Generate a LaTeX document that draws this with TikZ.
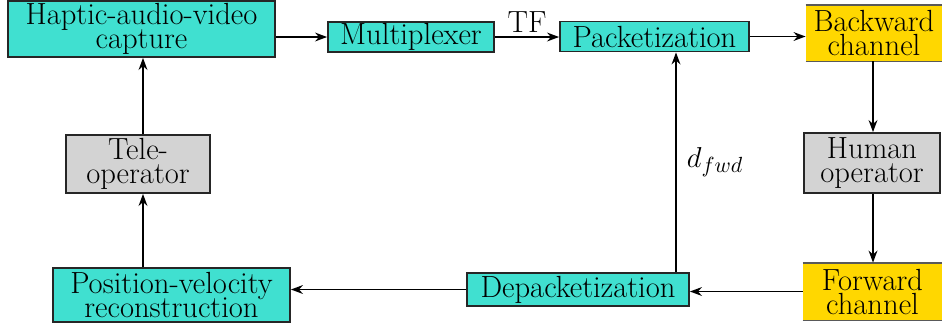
\documentclass[tikz,border=0pt]{standalone}
\usetikzlibrary{arrows.meta}
\definecolor{turq}{HTML}{40E0D0}
\definecolor{chanyellow}{HTML}{FFD700}
\definecolor{opgray}{HTML}{D3D3D3}
\newcommand\blkfont{\fontsize{15.3}{12}\selectfont\lineskiplimit=-20pt\relax}
\begin{document}
\begin{tikzpicture}[x=0.5pt,y=-0.5pt,
  every node/.style={font=\blkfont, inner sep=0pt, align=center},
  blk/.style={draw=black!85, line width=0.9pt, fill=turq},
  opbox/.style={draw=black!85, line width=0.9pt, fill=opgray},
  chan/.style={fill=chanyellow},
  chanline/.style={draw=black!65, line width=0.9pt},
  conn/.style={line width=0.9pt, -{Stealth[length=6pt,width=4.4pt]}}]
\useasboundingbox (0,0) rectangle (942,329);

% blocks
\node[blk, minimum width=133.5pt, minimum height=28pt] (cap) at (141.5,29) {Haptic-audio-video\\capture};
\node[blk, minimum width=83pt, minimum height=15pt] (mux) at (411,37) {Multiplexer};
\node[blk, minimum width=94.5pt, minimum height=15pt] (pack) at (654.5,36.5) {Packetization};
\node[chan, minimum width=68pt, minimum height=28pt] (back) at (874,33) {Backward\\channel};
\node[opbox, minimum width=68pt, minimum height=30pt] (human) at (872,163) {Human\\operator};
\node[chan, minimum width=69.5pt, minimum height=28.5pt] (fwd) at (872.5,291.5) {Forward\\channel};
\node[blk, minimum width=111pt, minimum height=16.5pt] (depack) at (578,289.5) {Depacketization};
\node[blk, minimum width=118.5pt, minimum height=27pt] (pos) at (171.5,295) {Position-velocity\\reconstruction};
\node[opbox, minimum width=72pt, minimum height=29pt] (tele) at (138,164) {Tele-\\operator};

% channel edges
\draw[chanline] (back.north west) -- (back.north east);
\draw[chanline] (back.south west) -- (back.south east);
\draw[chanline] (fwd.north west) -- (fwd.north east);
\draw[chanline] (fwd.south west) -- (fwd.south east);

% guide columns for vertical links
\coordinate (lx) at (143,0);
\coordinate (rx) at (676,0);
\coordinate (cx) at (873,0);

% connectors
\draw[conn] (cap.east |- mux.west) -- (mux.west);
\draw[conn] (mux.east) -- node[above=2pt] (tf) {TF} (mux.east -| pack.west);
\draw[conn] (pack.east) -- (pack.east -| back.west);
\draw[conn] (back.south -| cx) -- (human.north -| cx);
\draw[conn] (human.south -| cx) -- (fwd.north -| cx);
\draw[conn] (fwd.west) -- (fwd.west -| depack.east);
\draw[conn] (depack.west) -- (depack.west -| pos.east);
\draw[conn] (depack.north -| rx) -- node[right=5pt] (dfwd) {$d_{fwd}$} (pack.south -| rx);
\draw[conn] (pos.north -| lx) -- (tele.south -| lx);
\draw[conn] (tele.north -| lx) -- (cap.south -| lx);
\end{tikzpicture}
\end{document}
